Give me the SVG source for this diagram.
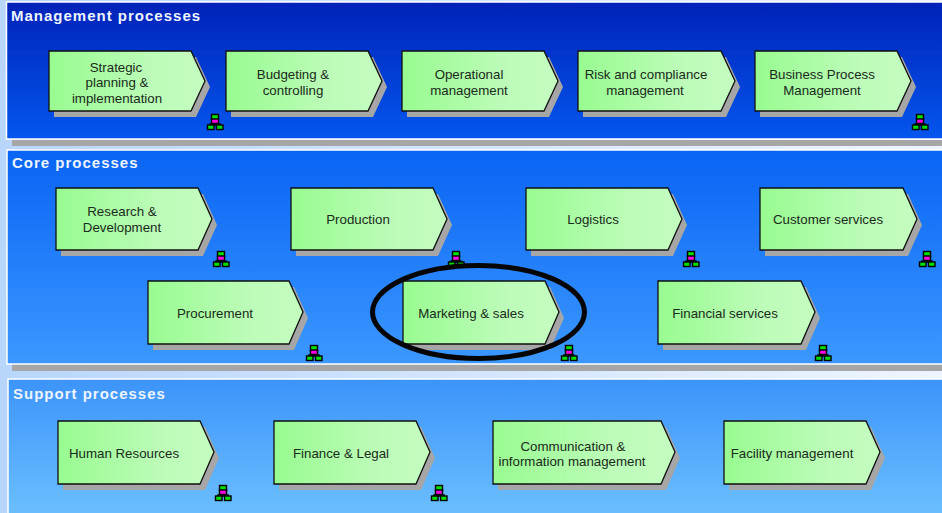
<svg xmlns="http://www.w3.org/2000/svg" width="942" height="513" viewBox="0 0 942 513">
<style>
.t{font-family:"Liberation Sans",Arial,sans-serif;font-size:13.3px;fill:#1a2a1a;text-anchor:middle}
.h{font-family:"Liberation Sans",Arial,sans-serif;font-size:15px;font-weight:bold;fill:#eef4ff;letter-spacing:1px}
.p{stroke:#fff;stroke-width:1.5}
.s{fill:#a6a6a6}
.c{fill:url(#g);stroke:#111;stroke-width:1.3}
.i{stroke:#000;stroke-width:1.4}
</style>
<defs>
<linearGradient id="bg" x1="0" x2="1" y1="0" y2="0"><stop offset="0" stop-color="#b8d6fb"/><stop offset="1" stop-color="#eef5ff"/></linearGradient>
<linearGradient id="m" x1="0" x2="0" y1="0" y2="1"><stop offset="0" stop-color="#0022b8"/><stop offset="1" stop-color="#0456ee"/></linearGradient>
<linearGradient id="co" x1="0" x2="0" y1="0" y2="1"><stop offset="0" stop-color="#0864f4"/><stop offset="1" stop-color="#3c98ff"/></linearGradient>
<linearGradient id="su" x1="0" x2="0" y1="0" y2="1"><stop offset="0" stop-color="#3c94fa"/><stop offset="1" stop-color="#6cc0ff"/></linearGradient>
<linearGradient id="g" x1="0" x2="1" y1="0" y2="0"><stop offset="0" stop-color="#98fb90"/><stop offset=".65" stop-color="#bcfcb8"/><stop offset="1" stop-color="#c4fcc0"/></linearGradient>
<g id="ic"><path d="M8 8V12M3 12V10H13V12" fill="none" stroke="#000" stroke-width="1.5"/><rect class="i" x="4.500" y="0.500" width="7" height="5" fill="#00e000"/><rect class="i" x="4.500" y="5" width="7" height="4.500" fill="#ff00e0"/><rect class="i" x="0.500" y="11" width="6.500" height="4.500" fill="#00e000"/><rect class="i" x="9.500" y="11" width="6.500" height="4.500" fill="#00e000"/></g>
</defs>
<rect width="942" height="513" fill="url(#bg)"/>
<g id="panels">
<rect x="12" y="140" width="930" height="6" fill="#a6a6a6"/>
<rect x="12" y="364" width="930" height="7" fill="#a6a6a6"/>
<rect class="p" x="6.500" y="2" width="940" height="137" fill="url(#m)"/>
<rect class="p" x="7" y="150" width="940" height="214" fill="url(#co)"/>
<rect class="p" x="8" y="379" width="940" height="140" fill="url(#su)"/>
<text class="h" x="11" y="21">Management processes</text>
<text class="h" x="12" y="168">Core processes</text>
<text class="h" x="13" y="399">Support processes</text>
</g>
<g id="connectors"></g>
<g id="n1"><polygon class="s" points="54,57 196,57 210,87 196,117 54,117"/><polygon class="c" points="49,51 191,51 205,81 191,111 49,111"/><text class="t" y="72"><tspan x="116">Strategic</tspan><tspan x="117" dy="15">planning &amp;</tspan><tspan x="117" dy="16">implementation</tspan></text><use href="#ic" x="207" y="114"/></g>
<g id="n2"><polygon class="s" points="231,57 373,57 387,87 373,117 231,117"/><polygon class="c" points="226,51 368,51 382,81 368,111 226,111"/><text class="t" y="79"><tspan x="293">Budgeting &amp;</tspan><tspan x="293" dy="16">controlling</tspan></text></g>
<g id="n3"><polygon class="s" points="407,57 549,57 563,87 549,117 407,117"/><polygon class="c" points="402,51 544,51 558,81 544,111 402,111"/><text class="t" y="79"><tspan x="469">Operational</tspan><tspan x="469" dy="16">management</tspan></text></g>
<g id="n4"><polygon class="s" points="583,57 726,57 740,87 726,117 583,117"/><polygon class="c" points="578,51 721,51 735,81 721,111 578,111"/><text class="t" y="79"><tspan x="646">Risk and compliance</tspan><tspan x="645" dy="16">management</tspan></text></g>
<g id="n5"><polygon class="s" points="760,57 902,57 916,87 902,117 760,117"/><polygon class="c" points="755,51 897,51 911,81 897,111 755,111"/><text class="t" y="79"><tspan x="822">Business Process</tspan><tspan x="822" dy="16">Management</tspan></text><use href="#ic" x="912" y="114"/></g>
<g id="n6"><polygon class="s" points="61,194 203,194 217,225 203,256 61,256"/><polygon class="c" points="56,188 198,188 212,219 198,250 56,250"/><text class="t" y="216"><tspan x="122">Research &amp;</tspan><tspan x="122" dy="16">Development</tspan></text><use href="#ic" x="213" y="251"/></g>
<g id="n7"><polygon class="s" points="296,194 438,194 452,225 438,256 296,256"/><polygon class="c" points="291,188 433,188 447,219 433,250 291,250"/><text class="t" x="358" y="224">Production</text><use href="#ic" x="448" y="251"/></g>
<g id="n8"><polygon class="s" points="531,194 673,194 687,225 673,256 531,256"/><polygon class="c" points="526,188 668,188 682,219 668,250 526,250"/><text class="t" x="593" y="224">Logistics</text><use href="#ic" x="683" y="251"/></g>
<g id="n9"><polygon class="s" points="765,194 908,194 922,225 908,256 765,256"/><polygon class="c" points="760,188 903,188 917,219 903,250 760,250"/><text class="t" x="828" y="224">Customer services</text><use href="#ic" x="919" y="251"/></g>
<g id="n10"><polygon class="s" points="153,287 294,287 308,318 294,350 153,350"/><polygon class="c" points="148,281 289,281 303,312 289,344 148,344"/><text class="t" x="215" y="318">Procurement</text><use href="#ic" x="306" y="345"/></g>
<g id="n11"><polygon class="s" points="408,287 550,287 564,318 550,350 408,350"/><polygon class="c" points="403,281 545,281 559,312 545,344 403,344"/><text class="t" x="471" y="318">Marketing &amp; sales</text><use href="#ic" x="561" y="345"/></g>
<g id="n12"><polygon class="s" points="663,287 806,287 820,318 806,350 663,350"/><polygon class="c" points="658,281 801,281 815,312 801,344 658,344"/><text class="t" x="725" y="318">Financial services</text><use href="#ic" x="815" y="345"/></g>
<g id="n13"><polygon class="s" points="63,427 205,427 219,458 205,490 63,490"/><polygon class="c" points="58,421 200,421 214,452 200,484 58,484"/><text class="t" x="124" y="458">Human Resources</text><use href="#ic" x="215" y="485"/></g>
<g id="n14"><polygon class="s" points="279,427 421,427 435,458 421,490 279,490"/><polygon class="c" points="274,421 416,421 430,452 416,484 274,484"/><text class="t" x="341" y="458">Finance &amp; Legal</text><use href="#ic" x="431" y="485"/></g>
<g id="n15"><polygon class="s" points="498,427 666,427 680,458 666,490 498,490"/><polygon class="c" points="493,421 661,421 675,452 661,484 493,484"/><text class="t" y="451"><tspan x="573">Communication &amp;</tspan><tspan x="572" dy="15">information management</tspan></text></g>
<g id="n16"><polygon class="s" points="729,427 871,427 885,458 871,490 729,490"/><polygon class="c" points="724,421 866,421 880,452 866,484 724,484"/><text class="t" x="792" y="458">Facility management</text></g>
<ellipse id="highlight" cx="478.500" cy="312" rx="106" ry="46.500" fill="none" stroke="#050505" stroke-width="5"/>
</svg>
